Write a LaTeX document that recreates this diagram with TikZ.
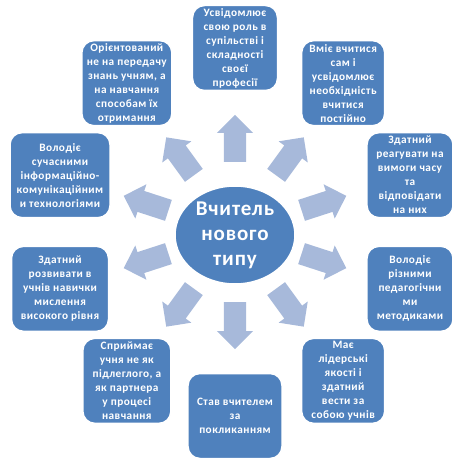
\documentclass[tikz,border=0pt]{standalone}
\usepackage{fontspec}
\setmainfont{Carlito}[LetterSpace=4]
\usetikzlibrary{shapes.geometric}

\definecolor{boxblue}{RGB}{79,129,189}
\definecolor{arrowblue}{RGB}{167,185,218}

\begin{document}
\begin{tikzpicture}[
  x=1pt, y=1pt,
  font=\bfseries\fontsize{11.3}{14}\selectfont,
  item/.style={draw=white, line width=1.5pt, fill=boxblue, text=white,
    rounded corners=12pt, align=center, inner sep=0pt, minimum height=85pt},
  hub/.style={ellipse, draw=white, line width=1.5pt, fill=boxblue, text=white,
    inner sep=0pt, minimum width=120pt, minimum height=98pt, align=center,
    font=\bfseries\fontsize{21}{25}\selectfont},
  pointer/.style={fill=arrowblue},
]
  \useasboundingbox (-235,-231) rectangle (226,232);

  % Centre
  \node[hub] (hub) at (0,-3) {Вчитель\\нового\\типу};

  % Arrows, 36 degrees apart
  \foreach \k in {0,...,9}
    \fill[pointer, rotate=90-36*\k] (70,-11) -- (99,-11) -- (99,-18) -- (117,0)
      -- (99,18) -- (99,11) -- (70,11) -- cycle;

  % Boxes round the centre
  \foreach \i/\a/\w/\txt in {
      1/90/85/{Усвідомлює\\свою роль в\\супільстві і\\складності\\своєї\\професії},
      2/54/83/{Вміє вчитися\\сам і\\усвідомлює\\необхідність\\вчитися\\постійно},
      3/18/86/{Здатний\\реагувати на\\вимоги часу\\та\\відповідати\\на них},
      4/-18/86/{Володіє\\різними\\педагогічни\\ми\\методиками},
      5/-54/83/{Має\\лідерські\\якості і\\здатний\\вести за\\собою учнів},
      6/-90/94/{Став вчителем\\за\\покликанням},
      7/-126/88/{Сприймає\\учня не як\\підлеглого, а\\як партнера\\у процесі\\навчання},
      8/-162/97/{Здатний\\розвивати в\\учнів навички\\мислення\\високого рівня},
      9/162/100/{Володіє\\сучасними\\інформаційно-\\комунікаційним\\и технологіями},
      10/126/90/{Орієнтований\\не на передачу\\знань учням, а\\на навчання\\способам їх\\отримання}}
    \node[item, minimum width=\w] (b\i) at (\a:184) {\txt};
\end{tikzpicture}
\end{document}
